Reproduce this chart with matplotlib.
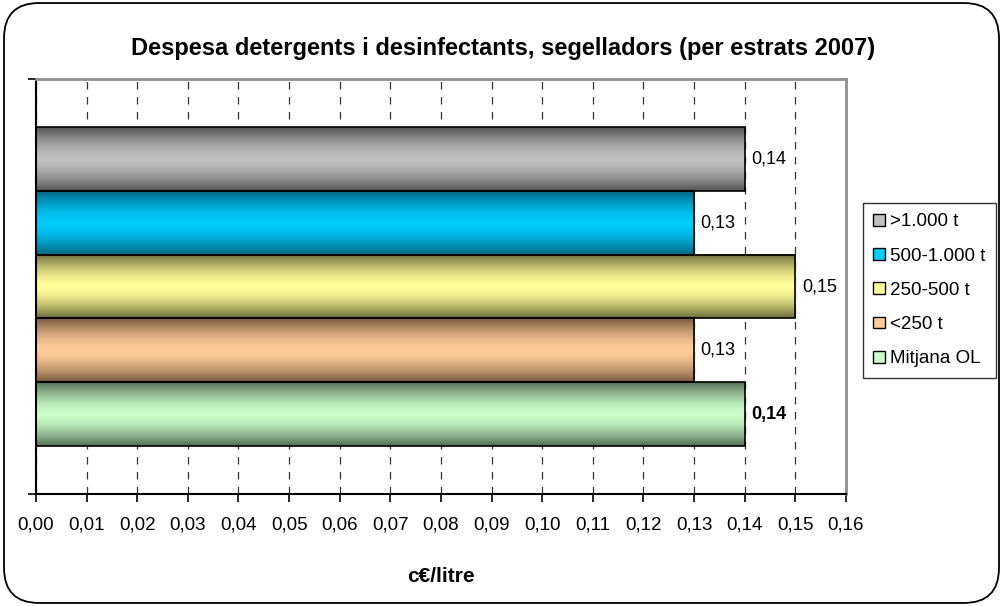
import numpy as np
import matplotlib
matplotlib.use('Agg')
import matplotlib.pyplot as plt
from matplotlib.patches import FancyBboxPatch, Patch
from matplotlib.colors import to_rgb

plt.rcParams['font.family'] = ['Liberation Sans', 'DejaVu Sans']

# Data
series = ['>1.000 t', '500-1.000 t', '250-500 t', '<250 t', 'Mitjana OL']
values = [0.14, 0.13, 0.15, 0.13, 0.14]
value_labels = ['0,14', '0,13', '0,15', '0,13', '0,14']
edge_colors = ['#555555', '#006680', '#6e6e3c', '#7a5a3e', '#557055']
center_colors = ['#c0c0c0', '#00ccff', '#ffff99', '#ffcc99', '#ccffcc']
xticks = [i / 100 for i in range(17)]
xtick_labels = ['0,%02d' % i for i in range(17)]

fig = plt.figure(figsize=(10.03, 6.06), dpi=100)
ax = fig.add_axes([36 / 1003, 1 - 494 / 606, (846 - 36) / 1003, (494 - 79) / 606])

# rounded outer border
fig.patches.append(FancyBboxPatch((0.004, 0.005), 0.992, 0.99,
                                  boxstyle='round,pad=0,rounding_size=0.035',
                                  transform=fig.transFigure, fill=False,
                                  edgecolor='black', linewidth=1.3,
                                  mutation_aspect=1003 / 606))

n = len(series)
ypos = [n - 1 - i for i in range(n)]

def gradient(c_edge, c_mid, steps=64):
    e = np.array(to_rgb(c_edge))
    m = np.array(to_rgb(c_mid))
    t = np.linspace(-1, 1, steps)
    w = np.abs(t) ** 1.6
    return (m[None, :] * (1 - w[:, None]) + e[None, :] * w[:, None])[:, None, :]

for y, v, ce, cm in zip(ypos, values, edge_colors, center_colors):
    ax.imshow(gradient(ce, cm), extent=(0, v, y - 0.5, y + 0.5),
              aspect='auto', zorder=2, interpolation='bilinear')
    ax.barh(y, v, height=1.0, facecolor='none', edgecolor='black',
            linewidth=1.2, zorder=3)

for i, (y, v, lab) in enumerate(zip(ypos, values, value_labels)):
    ax.text(v + 0.0013, y, lab, va='center', ha='left', fontsize=13,
            fontweight='bold' if i == n - 1 else 'normal', zorder=4)

ax.set_xlim(0, 0.16)
ax.set_ylim(-1.25, n + 0.25)
ax.set_xticks(xticks)
ax.set_xticklabels(xtick_labels, fontsize=13.5)
ax.set_yticks([-1.25, n + 0.25])
ax.set_yticklabels([])
ax.tick_params(axis='x', direction='out', length=6, width=1.2, pad=10)
ax.tick_params(axis='y', direction='out', length=6, width=1.2)
ax.xaxis.grid(True, linestyle=(0, (6, 6)), color='#333333', linewidth=0.9, zorder=0)
ax.set_axisbelow(True)

for side in ['top', 'right']:
    ax.spines[side].set_color('#909090')
    ax.spines[side].set_linewidth(2)
ax.spines['left'].set_linewidth(1.5)
ax.spines['bottom'].set_linewidth(1.5)

fig.text(503 / 1003, 1 - 48 / 606, 'Despesa detergents i desinfectants, segelladors (per estrats 2007)',
         ha='center', va='center', fontsize=17, fontweight='bold')
fig.text(441 / 1003, 1 - 577 / 606, 'c€/litre', ha='center', va='center',
         fontsize=15, fontweight='bold')

handles = [Patch(facecolor=c, edgecolor='black', linewidth=1) for c in center_colors]
leg = fig.legend(handles, series, loc='upper left',
                 bbox_to_anchor=(863 / 1003, 1 - 203 / 606), borderaxespad=0,
                 fontsize=13.5, frameon=True, fancybox=False, handlelength=0.6,
                 handleheight=0.6, handletextpad=0.3, labelspacing=0.92,
                 borderpad=0.55)
leg.get_frame().set_edgecolor('black')
leg.get_frame().set_linewidth(1)

fig.savefig('out.png', dpi=100)
